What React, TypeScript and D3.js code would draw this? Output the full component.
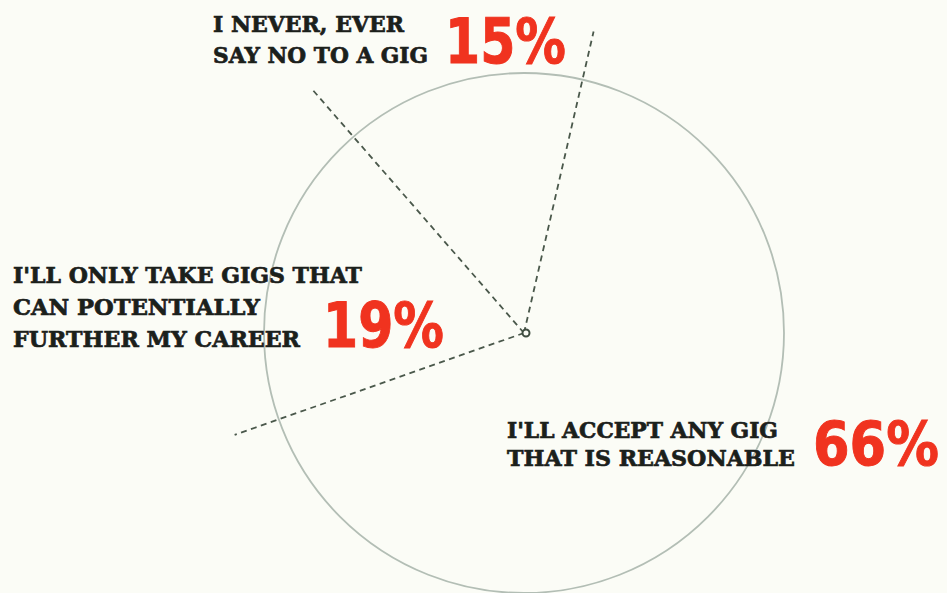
import React from "react";
import * as d3 from "d3";

const categories = [
  "I'LL ACCEPT ANY GIG|THAT IS REASONABLE",
  "I'LL ONLY TAKE GIGS THAT|CAN POTENTIALLY|FURTHER MY CAREER",
  "I NEVER, EVER|SAY NO TO A GIG",
];
const values = [66, 19, 15];
const valueLabels = ["66%", "19%", "15%"];

const W = 947;
const H = 593;
const cx = 524;
const cy = 333;
const R = 260;
const startDeg = 13;
// how far each boundary dash reaches beyond the circle (style)
const lineReach = [1.19, 1.18, 1.25];
// natural advance of "NN%" in DejaVu Sans Bold, in em
const pctEm = 2.394;

// label layout (style): x, first baseline y, line gap, per-line widths, value x/y/width/size
const labelLayout = [
  { x: 507, y: 438, gap: 28, widths: [271, 288], vx: 813, vy: 465, vw: 126, vs: 61 },
  { x: 13, y: 283, gap: 32, widths: [349, 247, 287], vx: 323, vy: 347, vw: 121, vs: 62 },
  { x: 213, y: 32, gap: 31, widths: [191, 215], vx: 445, vy: 63, vw: 121, vs: 62 },
];

export default function App() {
  const pie = d3
    .pie<number>()
    .sort(null)
    .startAngle((startDeg * Math.PI) / 180)
    .endAngle((startDeg * Math.PI) / 180 + 2 * Math.PI);
  const arcs = pie(values);
  const boundaries = arcs.map((a) => a.startAngle);

  return (
    <div style={{ position: "fixed", left: 0, top: 0, width: W, height: H, background: "#fbfcf6" }}>
      <svg width={W} height={H} style={{ display: "block" }}>
        <rect x={0} y={0} width={W} height={H} fill="#fbfcf6" />
        <circle cx={cx} cy={cy} r={R} fill="none" stroke="#b3beb5" strokeWidth={1.8} />
        {boundaries.map((ang, i) => {
          const len = R * lineReach[i];
          const x2 = cx + len * Math.sin(ang);
          const y2 = cy - len * Math.cos(ang);
          return (
            <line
              key={i}
              x1={cx}
              y1={cy}
              x2={x2}
              y2={y2}
              stroke="#4a584b"
              strokeWidth={1.8}
              strokeDasharray="6,4.5"
            />
          );
        })}
        <circle cx={cx + 2} cy={cy} r={3.5} fill="#fbfcf6" stroke="#3f4d40" strokeWidth={2} />
        {categories.map((c, i) => {
          const L = labelLayout[i];
          const lines = c.split("|");
          const sx = L.vw / (pctEm * L.vs);
          return (
            <g key={i}>
              {lines.map((t, j) => (
                <text
                  key={j}
                  x={L.x}
                  y={L.y + j * L.gap}
                  fontFamily="'DejaVu Serif', serif"
                  fontWeight="bold"
                  fontSize={23}
                  fill="#1b201b"
                  stroke="#1b201b"
                  strokeWidth={0.7}
                  textLength={L.widths[j]}
                  lengthAdjust="spacingAndGlyphs"
                >
                  {t}
                </text>
              ))}
              <text
                transform={`translate(${L.vx},${L.vy}) scale(${sx},1)`}
                x={0}
                y={0}
                fontFamily="'DejaVu Sans', sans-serif"
                fontWeight="bold"
                fontSize={L.vs}
                fill="#f0331f"
                stroke="#f0331f"
                strokeWidth={1}
              >
                {valueLabels[i]}
              </text>
            </g>
          );
        })}
      </svg>
    </div>
  );
}
